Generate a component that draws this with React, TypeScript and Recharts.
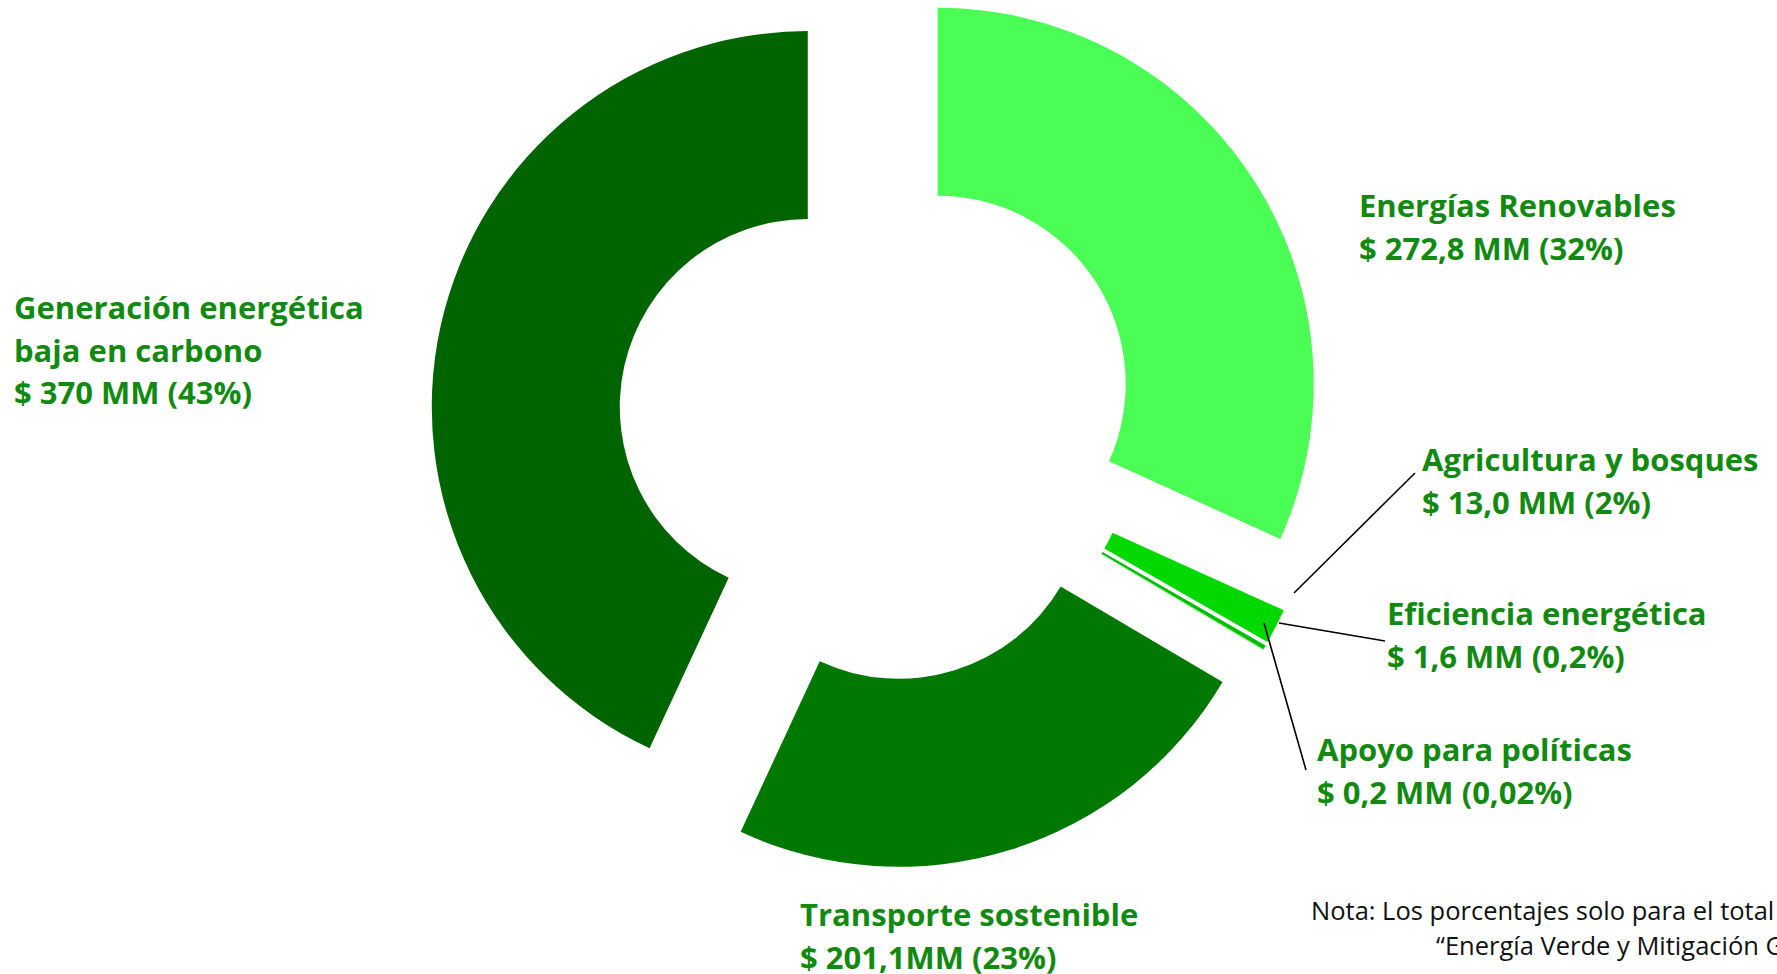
import { PieChart, Pie, Cell } from 'recharts'

const CATEGORIES = [
  'Energías Renovables',
  'Agricultura y bosques',
  'Eficiencia energética',
  'Apoyo para políticas',
  'Transporte sostenible',
  'Generación energética baja en carbono',
]
const VALUES = [272.8, 13.0, 1.6, 0.2, 201.1, 370]
const VALUE_LABELS = [
  '$ 272,8 MM (32%)',
  '$ 13,0 MM (2%)',
  '$ 1,6 MM (0,2%)',
  '$ 0,2 MM (0,02%)',
  '$ 201,1MM (23%)',
  '$ 370 MM (43%)',
]
const NAME_LINES = [
  ['Energías Renovables'],
  ['Agricultura y bosques'],
  ['Eficiencia energética'],
  ['Apoyo para políticas'],
  ['Transporte sostenible'],
  ['Generación energética', 'baja en carbono'],
]
const COLORS = ['#4bfe55', '#00d800', '#00bf00', '#5ad85a', '#017801', '#006400']

const data = CATEGORIES.map((name, i) => ({ name, value: VALUES[i] }))

// chart geometry
const W = 1777
const H = 974
const CX = 877.6
const CY = 422.5
const INNER = 188
const OUTER = 376
const EXPLODE = 71.5
const LABEL_COLOR = '#128a12'
const FONT = '"Open Sans", Lato, sans-serif'

// label placement (left x, first line centre) and leader lines
const LABEL_LAYOUT = [
  { x: 1359, y: 205, line: null },
  { x: 1422, y: 459, line: [1294, 593, 1415, 473] },
  { x: 1387, y: 613, line: [1279, 623, 1385, 641] },
  { x: 1317, y: 749, line: [1264, 623, 1306, 770] },
  { x: 800, y: 914, line: null },
  { x: 14, y: 307, line: null },
]
const LINE_GAP = 42.5

const total = VALUES.reduce((s, v) => s + v, 0)
// mid angle of each slice, degrees clockwise from 12 o'clock
const midAngles = VALUES.map((v, i) => {
  const before = VALUES.slice(0, i).reduce((s, x) => s + x, 0)
  return ((before + v / 2) / total) * 360
})

function renderLabel(slice: number) {
  return (props: any) => {
    if (props.index !== slice) return null
    const pos = LABEL_LAYOUT[slice]
    const lines = [...NAME_LINES[slice], VALUE_LABELS[slice]]
    return (
      <g>
        {pos.line && (
          <line
            x1={pos.line[0]}
            y1={pos.line[1]}
            x2={pos.line[2]}
            y2={pos.line[3]}
            stroke="#000"
            strokeWidth={1.6}
          />
        )}
        <text
          x={pos.x}
          y={pos.y}
          fill={LABEL_COLOR}
          fontFamily={FONT}
          fontWeight={700}
          fontSize={31}
          dominantBaseline="central"
        >
          {lines.map((t, k) => (
            <tspan key={k} x={pos.x} y={pos.y + k * LINE_GAP}>
              {t}
            </tspan>
          ))}
        </text>
      </g>
    )
  }
}

export default function App() {
  return (
    <div style={{ width: W, height: H, overflow: 'hidden', background: '#fff' }}>
      <style>{'body{margin:0;overflow:hidden}'}</style>
      <PieChart width={W} height={H} margin={{ top: 0, right: 0, bottom: 0, left: 0 }}>
        {VALUES.map((_, i) => {
          const a = (midAngles[i] * Math.PI) / 180
          return (
            <Pie
              key={i}
              data={data}
              dataKey="value"
              nameKey="name"
              cx={CX + EXPLODE * Math.sin(a)}
              cy={CY - EXPLODE * Math.cos(a)}
              innerRadius={INNER}
              outerRadius={OUTER}
              startAngle={90}
              endAngle={-270}
              stroke="none"
              isAnimationActive={false}
              label={renderLabel(i)}
              labelLine={false}
            >
              {data.map((_, j) => (
                <Cell key={j} fill={j === i ? COLORS[j] : 'none'} stroke="none" />
              ))}
            </Pie>
          )
        })}
        <text x={1311} y={910} fontFamily={FONT} fontSize={25.5} fill="#111" dominantBaseline="central">
          Nota: Los porcentajes solo para el total
        </text>
        <text x={1436} y={945} fontFamily={FONT} fontSize={25.5} fill="#111" dominantBaseline="central">
          “Energía Verde y Mitigación GEI”
        </text>
      </PieChart>
    </div>
  )
}
